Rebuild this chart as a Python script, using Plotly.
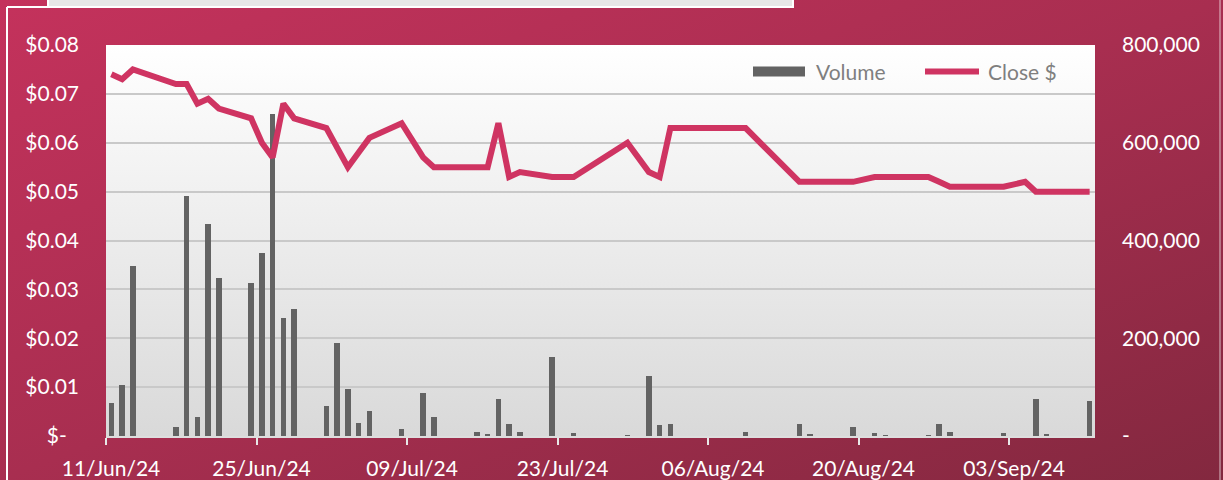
import base64
import plotly.graph_objects as go

# ---------------- data ----------------
dates = ["2024-06-11", "2024-06-12", "2024-06-13", "2024-06-17", "2024-06-18", "2024-06-19",
         "2024-06-20", "2024-06-21", "2024-06-24", "2024-06-25", "2024-06-26", "2024-06-27",
         "2024-06-28", "2024-07-01", "2024-07-02", "2024-07-03", "2024-07-04", "2024-07-05",
         "2024-07-08", "2024-07-10", "2024-07-11", "2024-07-15", "2024-07-16", "2024-07-17",
         "2024-07-18", "2024-07-19", "2024-07-22", "2024-07-24", "2024-07-29", "2024-07-31",
         "2024-08-01", "2024-08-02", "2024-08-09", "2024-08-14", "2024-08-15", "2024-08-19",
         "2024-08-21", "2024-08-22", "2024-08-26", "2024-08-27", "2024-08-28", "2024-09-02",
         "2024-09-04", "2024-09-05", "2024-09-06", "2024-09-10"]
close = [0.074, 0.073, 0.075, 0.072, 0.072, 0.068,
         0.069, 0.067, 0.065, 0.060, 0.057, 0.068,
         0.065, 0.063, 0.059, 0.055, 0.058, 0.061,
         0.064, 0.057, 0.055, 0.055, 0.055, 0.064,
         0.053, 0.054, 0.053, 0.053, 0.060, 0.054,
         0.053, 0.063, 0.063, 0.052, 0.052, 0.052,
         0.053, 0.053, 0.053, 0.052, 0.051, 0.051,
         0.052, 0.050, 0.050, 0.050]
volume = [67000, 105000, 347000, 18000, 492000, 39000,
          433000, 324000, 314000, 374000, 659000, 242000,
          259000, 61000, 191000, 96000, 27000, 52000,
          14000, 89000, 38000, 9000, 3500, 76000,
          24000, 7500, 162000, 7000, 1500, 123000,
          22000, 25000, 7500, 24000, 4000, 18000,
          7000, 1000, 1000, 24500, 7500, 5500,
          0, 76500, 3000, 71000]

x_tick_dates = ["2024-06-11", "2024-06-25", "2024-07-09", "2024-07-23",
                "2024-08-06", "2024-08-20", "2024-09-03"]
price_ticks = [0.0, 0.01, 0.02, 0.03, 0.04, 0.05, 0.06, 0.07, 0.08]
price_labels = ["$-\u2007", "$0.01", "$0.02", "$0.03", "$0.04", "$0.05", "$0.06", "$0.07", "$0.08"]
vol_ticks = [0, 100000, 200000, 300000, 400000, 500000, 600000, 700000, 800000]
vol_labels = ["-", "", "200,000", "", "400,000", "", "600,000", "", "800,000"]

# ---------------- geometry / style ----------------
W, H = 1223, 480
L, R, T, B = 106, 1095, 45, 436
PINK = "#cf3462"
GRAY = "#636363"
FONT = "Lato"


def px(x):
    return (x - L) / (R - L)


def py(y):
    return (B - y) / (B - T)


def svg_uri(svg):
    return "data:image/svg+xml;base64," + base64.b64encode(svg.encode()).decode()


bg_svg = (f'<svg xmlns="http://www.w3.org/2000/svg" width="{W}" height="{H}" '
          f'viewBox="0 0 {W} {H}" preserveAspectRatio="none"><defs>'
          '<linearGradient id="g" x1="0" y1="0" x2="1" y2="1">'
          '<stop offset="0" stop-color="#c4325c"/><stop offset="0.5" stop-color="#a82e50"/>'
          '<stop offset="1" stop-color="#83283f"/></linearGradient></defs>'
          f'<rect width="{W}" height="{H}" fill="url(#g)"/></svg>')
plot_svg = ('<svg xmlns="http://www.w3.org/2000/svg" width="100" height="100" '
            'viewBox="0 0 100 100" preserveAspectRatio="none"><defs>'
            '<linearGradient id="p" x1="0" y1="0" x2="0" y2="1">'
            '<stop offset="0" stop-color="#ffffff"/><stop offset="1" stop-color="#d9d9d9"/>'
            '</linearGradient></defs><rect width="100" height="100" fill="url(#p)"/></svg>')

fig = go.Figure()
fig.add_trace(go.Bar(
    x=dates, y=volume, name="Volume", marker=dict(color=GRAY, line=dict(width=0)),
    xperiod=86400000, xperiodalignment="middle", width=0.5 * 86400000,
    yaxis="y", hoverinfo="skip"))
fig.add_trace(go.Scatter(
    x=dates, y=close, name="Close $", mode="lines",
    line=dict(color=PINK, width=6),
    xperiod=86400000, xperiodalignment="middle",
    yaxis="y2", hoverinfo="skip"))

tickfont = dict(family=FONT, size=21, color="#ffffff")

fig.update_layout(
    width=W, height=H,
    margin=dict(l=L, r=W - R, t=T, b=H - B, autoexpand=False),
    paper_bgcolor="#a82e50",
    plot_bgcolor="rgba(0,0,0,0)",
    showlegend=False,
    bargap=0,
    hovermode=False,
    xaxis=dict(
        type="date", range=["2024-06-11", "2024-09-11"],
        tickvals=x_tick_dates, tickformat="%d/%b/%y",
        ticks="outside", ticklen=7, tickwidth=1.5, tickcolor="#e8e8e8",
        showline=True, linecolor="#dedede", linewidth=2,
        showgrid=False, zeroline=False, tickfont=tickfont,
        ticklabelshift=5, ticklabelstandoff=6, automargin=False),
    yaxis=dict(
        side="right", range=[0, 800000], tickvals=vol_ticks, ticktext=vol_labels,
        showgrid=True, gridcolor="#c9c9c9", gridwidth=1.5, zeroline=False,
        showline=False, ticks="", tickfont=tickfont, ticklabelstandoff=26,
        automargin=False),
    yaxis2=dict(
        side="left", overlaying="y", range=[0, 0.08], tickvals=price_ticks,
        ticktext=price_labels, showgrid=False, zeroline=False, showline=False,
        ticks="", tickfont=tickfont, ticklabelstandoff=26, automargin=False),
    images=[
        dict(source=svg_uri(bg_svg), xref="paper", yref="paper", x=px(0), y=py(0),
             sizex=W / (R - L), sizey=H / (B - T), xanchor="left", yanchor="top",
             sizing="stretch", layer="below"),
        dict(source=svg_uri(plot_svg), xref="paper", yref="paper", x=0, y=1,
             sizex=1, sizey=1, xanchor="left", yanchor="top",
             sizing="stretch", layer="below"),
    ],
    shapes=[
        # chart frame lines
        dict(type="line", xref="paper", yref="paper", x0=px(7), x1=px(7), y0=py(7), y1=py(490),
             line=dict(color="#ffffff", width=2)),
        dict(type="line", xref="paper", yref="paper", x0=px(7), x1=px(48), y0=py(7), y1=py(7),
             line=dict(color="#ffffff", width=2)),
        dict(type="line", xref="paper", yref="paper", x0=px(1220), x1=px(1220), y0=py(0), y1=py(490),
             line=dict(color="rgba(255,255,255,0.35)", width=2)),
        # title box at top (cut off)
        dict(type="rect", xref="paper", yref="paper", x0=px(48), x1=px(793), y0=py(7), y1=py(-10),
             fillcolor="#e7e7e7", line=dict(color="#ffffff", width=2)),
        # legend symbols
        dict(type="rect", xref="paper", yref="paper", x0=px(753), x1=px(805), y0=py(76.5), y1=py(66.5),
             fillcolor=GRAY, line=dict(width=0)),
        dict(type="line", xref="paper", yref="paper", x0=px(925), x1=px(979), y0=py(71.5), y1=py(71.5),
             line=dict(color=PINK, width=6)),
    ],
    annotations=[
        dict(text="Volume", xref="paper", yref="paper", x=px(814), y=py(71.5),
             xanchor="left", yanchor="middle", showarrow=False,
             font=dict(family=FONT, size=21, color="#7f7f7f")),
        dict(text="Close $", xref="paper", yref="paper", x=px(986), y=py(71.5),
             xanchor="left", yanchor="middle", showarrow=False,
             font=dict(family=FONT, size=21, color="#7f7f7f")),
    ],
)

fig.write_html("out.html", config={"displayModeBar": False},
               post_script="document.body.style.margin='0';document.body.style.overflow='hidden';")
